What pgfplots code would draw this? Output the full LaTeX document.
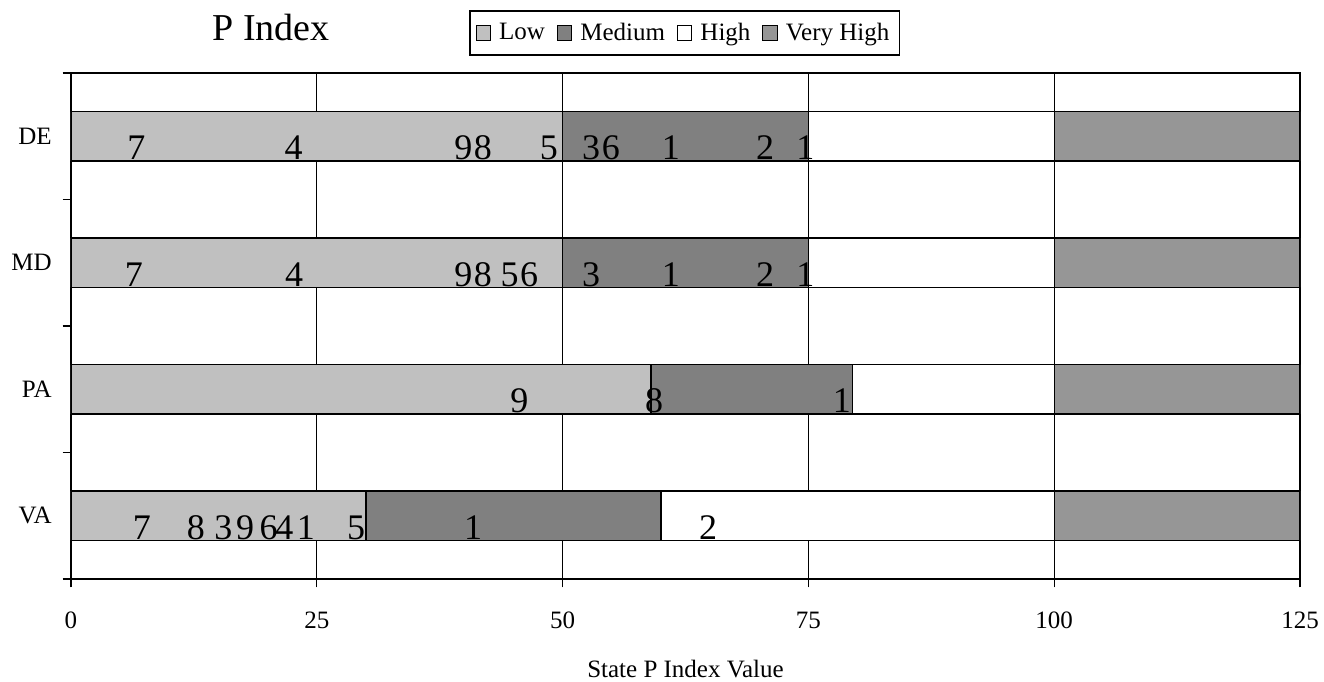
\documentclass[border=0pt]{standalone}
\usepackage{fontspec}
\setmainfont{Liberation Serif}
\usepackage{pgfplots}
\usepackage{pgfplotstable}
\pgfplotsset{compat=1.18}

\definecolor{lowc}{HTML}{C0C0C0}
\definecolor{medc}{HTML}{808080}
\definecolor{vhighc}{HTML}{969696}

% labels written on the bars (x position, bar row, text)
\pgfplotstableread{
x     y      lab
6.65  2.815  7
22.65 2.815  4
39.9  2.815  9
41.9  2.815  8
48.6  2.815  5
52.9  2.815  3
54.9  2.815  6
61.0  2.815  1
70.6  2.815  2
74.7  2.815  1
6.4   1.815  7
22.7  1.815  4
39.9  1.815  9
41.9  1.815  8
44.6  1.815  5
46.6  1.815  6
52.9  1.815  3
61.0  1.815  1
70.6  1.815  2
74.7  1.815  1
45.6  0.815  9
59.3  0.815  8
78.4  0.815  1
7.2   -0.185 7
12.7  -0.185 8
15.5  -0.185 3
17.7  -0.185 9
20.1  -0.185 6
21.7  -0.185 4
23.9  -0.185 1
29.0  -0.185 5
40.9  -0.185 1
64.8  -0.185 2
}\barlabels

\begin{document}
\begin{tikzpicture}
\useasboundingbox (-35.5pt,-51pt) rectangle (626.5pt,289.5pt);
\begin{axis}[
    scale only axis,
    width=614.5pt, height=253pt,
    xbar stacked,
    bar width=0.39,
    xmin=0, xmax=125,
    ymin=-0.5, ymax=3.5,
    axis line style={line width=0.8pt},
    xtick={0,25,...,125},
    xtick pos=bottom,
    ytick pos=left,
    xmajorgrids=true,
    grid style={black, line width=0.6pt},
    tick align=outside,
    major tick length=4.2pt,
    tick style={black, line width=0.6pt},
    ytick={-0.5,0.5,1.5,2.5,3.5},
    yticklabels={},
    extra y ticks={0,1,2,3},
    extra y tick labels={VA,PA,MD,DE},
    extra y tick style={major tick length=0pt,
        yticklabel style={anchor=east, inner sep=0pt, xshift=-9.5pt}},
    /pgf/number format/assume math mode=true,
    tick label style={font=\fontsize{12.5}{15}\selectfont},
    xticklabel style={anchor=base, inner sep=0pt, yshift=-20.5pt},
    xlabel={State P Index Value},
    xlabel style={font=\fontsize{12.5}{15}\selectfont,
        at={(axis description cs:0.5,-0.1937)}, anchor=base},
    title={P Index},
    every axis title/.style={font=\fontsize{19}{22}\selectfont,
        at={(axis description cs:0.1627,1.0652)}, anchor=base, inner sep=0pt},
    legend columns=-1,
    legend style={at={(0.4992,1.079)}, anchor=center,
        draw=black, line width=0.8pt, inner ysep=4pt, inner xsep=3pt,
        font=\fontsize{12.5}{15}\selectfont,
        /tikz/every odd column/.append style={column sep=2pt},
        /tikz/every even column/.append style={column sep=4pt}},
    legend image code/.code={
        \draw[#1, draw=black, line width=0.5pt] (0pt,-3.6pt) rectangle (7.2pt,3.6pt);},
    every axis plot/.append style={draw=black, line width=0.6pt},
]
\addplot[fill=lowc] coordinates {(30,0) (59,1) (50,2) (50,3)};
\addplot[fill=medc] coordinates {(30,0) (20.5,1) (25,2) (25,3)};
\addplot[fill=white] coordinates {(40,0) (20.5,1) (25,2) (25,3)};
\addplot[fill=vhighc] coordinates {(25,0) (25,1) (25,2) (25,3)};
\legend{Low, Medium, High, Very High}
\end{axis}
\begin{axis}[
    scale only axis,
    width=614.5pt, height=253pt,
    xmin=0, xmax=125,
    ymin=-0.5, ymax=3.5,
    hide axis, clip=false,
]
\addplot[draw=none, mark=none, nodes near coords,
    point meta=explicit symbolic,
    every node near coord/.append style={anchor=base, inner sep=0pt,
        font=\fontsize{18}{20}\selectfont}]
    table[x=x, y=y, meta=lab] {\barlabels};
\end{axis}
\end{tikzpicture}
\end{document}
